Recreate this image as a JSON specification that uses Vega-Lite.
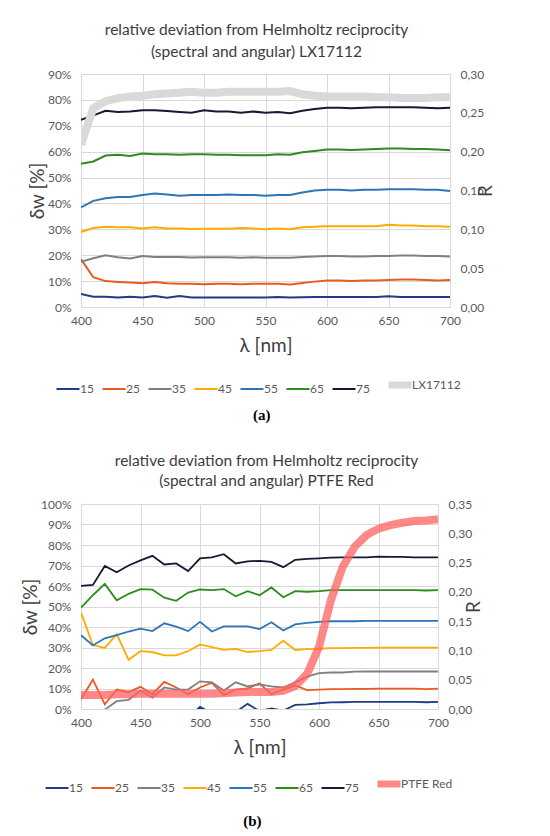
{
  "$schema": "https://vega.github.io/schema/vega-lite/v6.json",
  "padding": {"left": 21, "top": 22, "right": 5, "bottom": 5},
  "background": "white",
  "config": {
    "font": "Lato",
    "view": {"stroke": null},
    "axis": {
      "labelColor": "#595959",
      "labelFontSize": 12,
      "titleColor": "#404040",
      "titleFontWeight": "normal",
      "titleFontSize": 19,
      "gridColor": "#d9d9d9",
      "domain": false,
      "ticks": false,
      "labelPadding": 10
    },
    "legend": {
      "orient": "bottom",
      "direction": "horizontal",
      "symbolType": "stroke",
      "symbolSize": 530,
      "symbolStrokeWidth": 2,
      "labelColor": "#595959",
      "labelFontSize": 12,
      "labelOffset": 6,
      "columnPadding": 4,
      "offset": 24,
      "layout": {"bottom": {"anchor": "middle"}}
    },
    "title": {
      "fontSize": 15.5,
      "fontWeight": "normal",
      "color": "#3c3c3c",
      "lineHeight": 22,
      "offset": 8
    }
  },
  "datasets": {
    "a": [
      {"wl": 400, "15": 5.0, "25": 18.5, "35": 17.5, "45": 29.0, "55": 38.5, "65": 55.3, "75": 72.3, "LX17112": 0.209},
      {"wl": 410, "15": 4.0, "25": 11.5, "35": 18.8, "45": 30.5, "55": 41.0, "65": 56.2, "75": 74.0, "LX17112": 0.256},
      {"wl": 420, "15": 4.0, "25": 10.0, "35": 20.0, "45": 31.0, "55": 42.0, "65": 58.5, "75": 75.8, "LX17112": 0.265},
      {"wl": 430, "15": 3.7, "25": 9.7, "35": 19.2, "45": 30.8, "55": 42.5, "65": 58.8, "75": 75.3, "LX17112": 0.269},
      {"wl": 440, "15": 4.0, "25": 9.5, "35": 18.7, "45": 30.8, "55": 42.5, "65": 58.3, "75": 75.5, "LX17112": 0.271},
      {"wl": 450, "15": 3.7, "25": 9.2, "35": 19.7, "45": 30.3, "55": 43.3, "65": 59.3, "75": 76.0, "LX17112": 0.272},
      {"wl": 460, "15": 4.2, "25": 9.7, "35": 19.3, "45": 30.8, "55": 43.8, "65": 59.0, "75": 76.0, "LX17112": 0.274},
      {"wl": 470, "15": 3.6, "25": 9.2, "35": 19.3, "45": 30.3, "55": 43.5, "65": 59.0, "75": 75.7, "LX17112": 0.275},
      {"wl": 480, "15": 4.2, "25": 9.0, "35": 19.3, "45": 30.3, "55": 43.0, "65": 58.8, "75": 75.3, "LX17112": 0.276},
      {"wl": 490, "15": 3.7, "25": 9.0, "35": 19.1, "45": 30.1, "55": 43.3, "65": 59.0, "75": 75.0, "LX17112": 0.277},
      {"wl": 500, "15": 3.7, "25": 8.8, "35": 19.2, "45": 30.2, "55": 43.3, "65": 59.0, "75": 76.0, "LX17112": 0.276},
      {"wl": 510, "15": 3.7, "25": 9.0, "35": 19.2, "45": 30.2, "55": 43.3, "65": 58.8, "75": 75.5, "LX17112": 0.276},
      {"wl": 520, "15": 3.7, "25": 9.0, "35": 19.2, "45": 30.2, "55": 43.5, "65": 58.8, "75": 75.5, "LX17112": 0.277},
      {"wl": 530, "15": 3.7, "25": 8.8, "35": 19.0, "45": 30.5, "55": 43.3, "65": 58.6, "75": 75.0, "LX17112": 0.277},
      {"wl": 540, "15": 3.7, "25": 9.0, "35": 19.2, "45": 30.3, "55": 43.3, "65": 58.6, "75": 75.5, "LX17112": 0.277},
      {"wl": 550, "15": 3.7, "25": 9.0, "35": 19.0, "45": 30.0, "55": 43.0, "65": 58.6, "75": 75.0, "LX17112": 0.277},
      {"wl": 560, "15": 3.9, "25": 9.0, "35": 19.0, "45": 30.3, "55": 43.3, "65": 59.0, "75": 75.3, "LX17112": 0.277},
      {"wl": 570, "15": 3.7, "25": 8.7, "35": 19.0, "45": 30.0, "55": 43.3, "65": 58.8, "75": 74.8, "LX17112": 0.278},
      {"wl": 580, "15": 3.8, "25": 9.3, "35": 19.3, "45": 30.8, "55": 44.2, "65": 59.8, "75": 75.8, "LX17112": 0.274},
      {"wl": 590, "15": 3.9, "25": 9.8, "35": 19.5, "45": 31.0, "55": 45.0, "65": 60.3, "75": 76.5, "LX17112": 0.272},
      {"wl": 600, "15": 3.9, "25": 10.2, "35": 19.7, "45": 31.2, "55": 45.3, "65": 60.8, "75": 77.0, "LX17112": 0.271},
      {"wl": 610, "15": 3.9, "25": 10.2, "35": 19.7, "45": 31.2, "55": 45.3, "65": 60.8, "75": 77.0, "LX17112": 0.271},
      {"wl": 620, "15": 3.9, "25": 10.0, "35": 19.5, "45": 31.2, "55": 45.0, "65": 60.6, "75": 76.8, "LX17112": 0.271},
      {"wl": 630, "15": 3.9, "25": 10.2, "35": 19.5, "45": 31.2, "55": 45.3, "65": 60.8, "75": 77.0, "LX17112": 0.271},
      {"wl": 640, "15": 3.9, "25": 10.2, "35": 19.7, "45": 31.2, "55": 45.3, "65": 61.0, "75": 77.2, "LX17112": 0.270},
      {"wl": 650, "15": 4.2, "25": 10.4, "35": 19.7, "45": 31.8, "55": 45.5, "65": 61.2, "75": 77.2, "LX17112": 0.270},
      {"wl": 660, "15": 3.9, "25": 10.6, "35": 19.9, "45": 31.5, "55": 45.5, "65": 61.2, "75": 77.2, "LX17112": 0.269},
      {"wl": 670, "15": 3.9, "25": 10.6, "35": 19.9, "45": 31.5, "55": 45.5, "65": 61.0, "75": 77.2, "LX17112": 0.269},
      {"wl": 680, "15": 3.9, "25": 10.4, "35": 19.7, "45": 31.2, "55": 45.3, "65": 61.0, "75": 77.0, "LX17112": 0.269},
      {"wl": 690, "15": 3.9, "25": 10.2, "35": 19.7, "45": 31.2, "55": 45.3, "65": 60.8, "75": 76.8, "LX17112": 0.270},
      {"wl": 700, "15": 3.9, "25": 10.4, "35": 19.5, "45": 31.0, "55": 44.8, "65": 60.5, "75": 77.0, "LX17112": 0.270}
    ],
    "b": [
      {"wl": 400, "15": -6.0, "25": 4.8, "35": -4.0, "45": 47.0, "55": 36.0, "65": 49.5, "75": 60.1, "PTFE Red": 0.024},
      {"wl": 410, "15": -4.0, "25": 14.3, "35": -2.0, "45": 31.2, "55": 31.0, "65": 55.5, "75": 60.5, "PTFE Red": 0.024},
      {"wl": 420, "15": -5.0, "25": 2.3, "35": -0.3, "45": 29.8, "55": 34.5, "65": 61.0, "75": 69.8, "PTFE Red": 0.024},
      {"wl": 430, "15": -3.0, "25": 9.5, "35": 3.8, "45": 36.5, "55": 36.0, "65": 53.0, "75": 66.7, "PTFE Red": 0.025},
      {"wl": 440, "15": -4.0, "25": 8.2, "35": 4.5, "45": 24.0, "55": 37.8, "65": 56.2, "75": 70.0, "PTFE Red": 0.025},
      {"wl": 450, "15": -3.0, "25": 10.8, "35": 9.0, "45": 28.2, "55": 39.2, "65": 58.5, "75": 72.5, "PTFE Red": 0.026},
      {"wl": 460, "15": -5.0, "25": 7.2, "35": 5.5, "45": 27.8, "55": 38.0, "65": 58.2, "75": 74.7, "PTFE Red": 0.026},
      {"wl": 470, "15": -4.0, "25": 13.2, "35": 10.5, "45": 26.2, "55": 41.8, "65": 54.3, "75": 70.5, "PTFE Red": 0.026},
      {"wl": 480, "15": -3.0, "25": 10.5, "35": 9.5, "45": 26.2, "55": 40.2, "65": 52.8, "75": 71.0, "PTFE Red": 0.026},
      {"wl": 490, "15": -4.0, "25": 7.2, "35": 9.5, "45": 28.2, "55": 38.0, "65": 56.8, "75": 67.3, "PTFE Red": 0.026},
      {"wl": 500, "15": 1.0, "25": 10.5, "35": 13.5, "45": 31.5, "55": 42.5, "65": 58.3, "75": 73.5, "PTFE Red": 0.026},
      {"wl": 510, "15": -2.0, "25": 12.8, "35": 13.0, "45": 30.2, "55": 37.8, "65": 58.0, "75": 74.0, "PTFE Red": 0.026},
      {"wl": 520, "15": -3.0, "25": 6.8, "35": 9.0, "45": 28.8, "55": 40.3, "65": 58.5, "75": 75.5, "PTFE Red": 0.027},
      {"wl": 530, "15": -1.5, "25": 9.5, "35": 13.0, "45": 29.3, "55": 40.3, "65": 55.0, "75": 71.0, "PTFE Red": 0.028},
      {"wl": 540, "15": 2.5, "25": 10.0, "35": 11.0, "45": 27.8, "55": 40.3, "65": 57.5, "75": 72.0, "PTFE Red": 0.029},
      {"wl": 550, "15": -1.0, "25": 12.5, "35": 12.0, "45": 28.2, "55": 39.0, "65": 55.5, "75": 72.3, "PTFE Red": 0.029},
      {"wl": 560, "15": 0.3, "25": 7.2, "35": 11.0, "45": 28.8, "55": 42.3, "65": 59.3, "75": 71.8, "PTFE Red": 0.029},
      {"wl": 570, "15": -0.8, "25": 9.5, "35": 10.5, "45": 33.3, "55": 38.3, "65": 54.5, "75": 69.2, "PTFE Red": 0.031},
      {"wl": 580, "15": 2.0, "25": 11.5, "35": 13.0, "45": 28.8, "55": 41.3, "65": 57.5, "75": 72.8, "PTFE Red": 0.039},
      {"wl": 590, "15": 2.3, "25": 9.2, "35": 15.8, "45": 29.2, "55": 42.0, "65": 57.2, "75": 73.2, "PTFE Red": 0.060},
      {"wl": 600, "15": 2.8, "25": 9.5, "35": 17.5, "45": 29.4, "55": 42.5, "65": 57.5, "75": 73.5, "PTFE Red": 0.106},
      {"wl": 610, "15": 3.2, "25": 9.7, "35": 17.8, "45": 29.7, "55": 42.8, "65": 58.0, "75": 73.8, "PTFE Red": 0.186},
      {"wl": 620, "15": 3.3, "25": 9.7, "35": 17.8, "45": 29.7, "55": 42.8, "65": 58.0, "75": 74.0, "PTFE Red": 0.243},
      {"wl": 630, "15": 3.5, "25": 9.8, "35": 18.2, "45": 29.8, "55": 42.8, "65": 58.0, "75": 74.0, "PTFE Red": 0.277},
      {"wl": 640, "15": 3.5, "25": 9.8, "35": 18.3, "45": 29.8, "55": 43.0, "65": 58.0, "75": 74.0, "PTFE Red": 0.297},
      {"wl": 650, "15": 3.5, "25": 9.9, "35": 18.3, "45": 29.9, "55": 43.0, "65": 58.0, "75": 74.3, "PTFE Red": 0.308},
      {"wl": 660, "15": 3.5, "25": 9.9, "35": 18.3, "45": 29.9, "55": 43.0, "65": 58.0, "75": 74.2, "PTFE Red": 0.314},
      {"wl": 670, "15": 3.5, "25": 9.9, "35": 18.3, "45": 29.9, "55": 43.0, "65": 58.0, "75": 74.2, "PTFE Red": 0.318},
      {"wl": 680, "15": 3.5, "25": 9.9, "35": 18.3, "45": 29.9, "55": 43.0, "65": 58.0, "75": 74.0, "PTFE Red": 0.321},
      {"wl": 690, "15": 3.3, "25": 9.7, "35": 18.3, "45": 29.9, "55": 43.0, "65": 57.8, "75": 74.0, "PTFE Red": 0.322},
      {"wl": 700, "15": 3.5, "25": 9.9, "35": 18.3, "45": 29.9, "55": 43.0, "65": 58.0, "75": 74.0, "PTFE Red": 0.324}
    ]
  },
  "concat": [
    {
      "title": {"text": "(a)", "orient": "bottom", "anchor": "middle", "font": "Liberation Serif", "fontSize": 15, "fontWeight": "bold", "color": "#000000", "offset": 9},
      "vconcat": [
        {
          "title": {"text": ["relative deviation from Helmholtz reciprocity", "(spectral and angular) LX17112"], "anchor": "middle", "frame": "group", "dx": -9},
          "width": 369,
          "height": 233,
          "data": {"name": "a"},
          "layer": [
            {
              "transform": [{"fold": ["15", "25", "35", "45", "55", "65", "75"], "as": ["series", "d"]}],
              "mark": {"type": "line", "strokeWidth": 2, "clip": true},
              "encoding": {
                "x": {"field": "wl", "type": "quantitative", "scale": {"domain": [400, 700], "nice": false, "zero": false}, "axis": {"values": [400, 450, 500, 550, 600, 650, 700], "labelFlush": false, "title": "λ [nm]", "grid": true, "labelPadding": 8, "titlePadding": 10}},
                "y": {"field": "d", "type": "quantitative", "scale": {"domain": [0, 90], "nice": false}, "axis": {"values": [0, 10, 20, 30, 40, 50, 60, 70, 80, 90], "labelExpr": "datum.value + '%'", "title": "δw [%]", "grid": true, "titlePadding": 4, "minExtent": 30, "maxExtent": 30}},
                "color": {
                  "field": "series", "type": "nominal",
                  "scale": {"domain": ["15", "25", "35", "45", "55", "65", "75", "LX17112"], "range": ["#1f3c88", "#eb5a1e", "#808080", "#ffab00", "#2e75b6", "#2e8b1e", "#141a33", "#d9d9d9"]},
                  "legend": {"title": null, "encode": {"symbols": {"update": {"strokeWidth": {"signal": "datum.value === 'LX17112' ? 7 : 2"}}}}}
                }
              }
            },
            {
              "transform": [{"fold": ["LX17112"], "as": ["series", "r"]}],
              "mark": {"type": "line", "strokeWidth": 8, "clip": true},
              "encoding": {
                "x": {"field": "wl", "type": "quantitative", "scale": {"domain": [400, 700], "nice": false, "zero": false}},
                "y": {"field": "r", "type": "quantitative", "scale": {"domain": [0, 0.3], "nice": false}, "axis": {"orient": "right", "values": [0, 0.05, 0.1, 0.15, 0.2, 0.25, 0.3], "labelExpr": "replace(format(datum.value, '.2f'), '.', ',')", "title": "R", "titleAngle": 270, "grid": false, "titlePadding": 12}},
                "color": {"field": "series", "type": "nominal"}
              }
            }
          ],
          "resolve": {"scale": {"y": "independent"}}
        }
      ]
    },
    {
      "title": {"text": "(b)", "orient": "bottom", "anchor": "middle", "font": "Liberation Serif", "fontSize": 15, "fontWeight": "bold", "color": "#000000", "offset": 16},
      "vconcat": [
        {
          "title": {"text": ["relative deviation from Helmholtz reciprocity", "(spectral and angular) PTFE Red"], "anchor": "middle", "frame": "group", "dx": 7, "lineHeight": 20, "offset": 9},
          "width": 357,
          "height": 205,
          "data": {"name": "b"},
          "layer": [
            {
              "transform": [{"fold": ["15", "25", "35", "45", "55", "65", "75"], "as": ["series", "d"]}],
              "mark": {"type": "line", "strokeWidth": 1.8, "clip": true},
              "encoding": {
                "x": {"field": "wl", "type": "quantitative", "scale": {"domain": [400, 700], "nice": false, "zero": false}, "axis": {"values": [400, 450, 500, 550, 600, 650, 700], "labelFlush": false, "title": "λ [nm]", "grid": true, "labelPadding": 8, "titlePadding": 10}},
                "y": {"field": "d", "type": "quantitative", "scale": {"domain": [0, 100], "nice": false}, "axis": {"values": [0, 10, 20, 30, 40, 50, 60, 70, 80, 90, 100], "labelExpr": "datum.value + '%'", "title": "δw [%]", "grid": true, "titlePadding": 4, "minExtent": 37, "maxExtent": 37}},
                "color": {
                  "field": "series", "type": "nominal",
                  "scale": {"domain": ["15", "25", "35", "45", "55", "65", "75", "PTFE Red"], "range": ["#1f3c88", "#eb5a1e", "#808080", "#ffab00", "#2e75b6", "#2e8b1e", "#141a33", "#ff6262"]},
                  "legend": {"title": null, "offset": 21, "encode": {"symbols": {"update": {"strokeWidth": {"signal": "datum.value === 'PTFE Red' ? 7 : 2"}, "opacity": {"signal": "datum.value === 'PTFE Red' ? 0.75 : 1"}}}}}
                }
              }
            },
            {
              "transform": [{"fold": ["PTFE Red"], "as": ["series", "r"]}],
              "mark": {"type": "line", "strokeWidth": 8, "opacity": 0.75, "clip": true},
              "encoding": {
                "x": {"field": "wl", "type": "quantitative", "scale": {"domain": [400, 700], "nice": false, "zero": false}},
                "y": {"field": "r", "type": "quantitative", "scale": {"domain": [0, 0.35], "nice": false}, "axis": {"orient": "right", "values": [0, 0.05, 0.1, 0.15, 0.2, 0.25, 0.3, 0.35], "labelExpr": "replace(format(datum.value, '.2f'), '.', ',')", "title": "R", "titleAngle": 270, "grid": false, "titlePadding": 12}},
                "color": {"field": "series", "type": "nominal"}
              }
            }
          ],
          "resolve": {"scale": {"y": "independent"}}
        }
      ]
    }
  ],
  "columns": 1,
  "align": "none",
  "spacing": 30,
  "resolve": {"scale": {"color": "independent", "x": "independent"}, "legend": {"color": "independent"}}
}
